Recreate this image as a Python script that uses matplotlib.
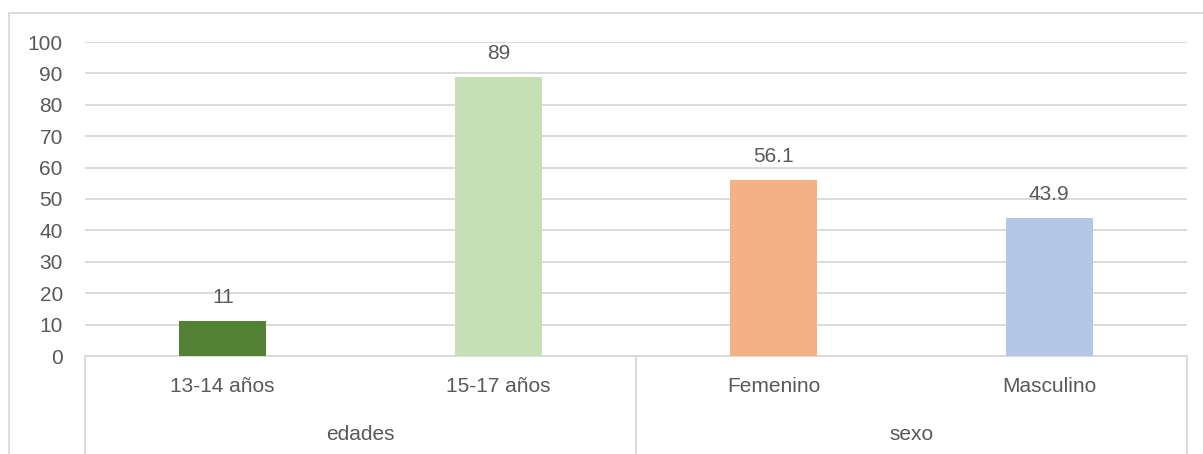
import matplotlib.pyplot as plt
from matplotlib.patches import Rectangle

categories = ["13-14 años", "15-17 años", "Femenino", "Masculino"]
groups = ["edades", "sexo"]
group_sizes = [2, 2]
values = [11, 89, 56.1, 43.9]
value_labels = ["11", "89", "56.1", "43.9"]
colors = ["#548235", "#C5E0B4", "#F4B183", "#B4C7E7"]

TXT = "#595959"
GRID = "#D9D9D9"
W, H = 1203, 454

plt.rcParams["font.family"] = ["Liberation Sans", "DejaVu Sans"]

fig = plt.figure(figsize=(W / 100, H / 100), dpi=100)
ax = fig.add_axes([85 / W, (H - 356) / H, (1187 - 85) / W, (356 - 42) / H])

x = list(range(len(values)))
bars = ax.bar(x, values, width=0.316, color=colors, zorder=3)
for b, lab in zip(bars, value_labels):
	ax.annotate(lab, (b.get_x() + b.get_width() / 2, b.get_height()),
				xytext=(0, 14), textcoords="offset pixels",
				ha="center", va="bottom", fontsize=15, color=TXT)

ax.set_xlim(-0.5, len(values) - 0.5)
ax.set_ylim(0, 100)
ax.set_yticks(range(0, 101, 10))
ax.yaxis.grid(True, color=GRID, linewidth=1.3, zorder=0)
ax.tick_params(axis="y", length=0, pad=16, labelsize=15, labelcolor=TXT)
ax.set_xticks([])
for s in ["top", "right", "left"]:
	ax.spines[s].set_visible(False)
ax.spines["bottom"].set_color(GRID)
ax.spines["bottom"].set_linewidth(1.3)

# etichette categorie (due livelli)
trans = ax.get_xaxis_transform()
for i, c in enumerate(categories):
	ax.annotate(c, (i, 0), xycoords=trans, xytext=(0, -31), textcoords="offset pixels",
				ha="center", va="center", fontsize=15, color=TXT, annotation_clip=False)

start = 0
seps = [-0.5]
for g, n in zip(groups, group_sizes):
	mid = start + (n - 1) / 2
	ax.annotate(g, (mid, 0), xycoords=trans, xytext=(0, -79), textcoords="offset pixels",
				ha="center", va="center", fontsize=15, color=TXT, annotation_clip=False)
	start += n
	seps.append(start - 0.5)

for s in seps:
	ax.plot([s, s], [0, -0.33], transform=trans, color=GRID, linewidth=1.3, clip_on=False)

# bordo del grafico
fig.patches.append(Rectangle((9 / W, -0.1), 1.2, (H - 13) / H + 0.1, transform=fig.transFigure,
							 fill=False, edgecolor=GRID, linewidth=1.3))

plt.savefig("out.png", dpi=100)
